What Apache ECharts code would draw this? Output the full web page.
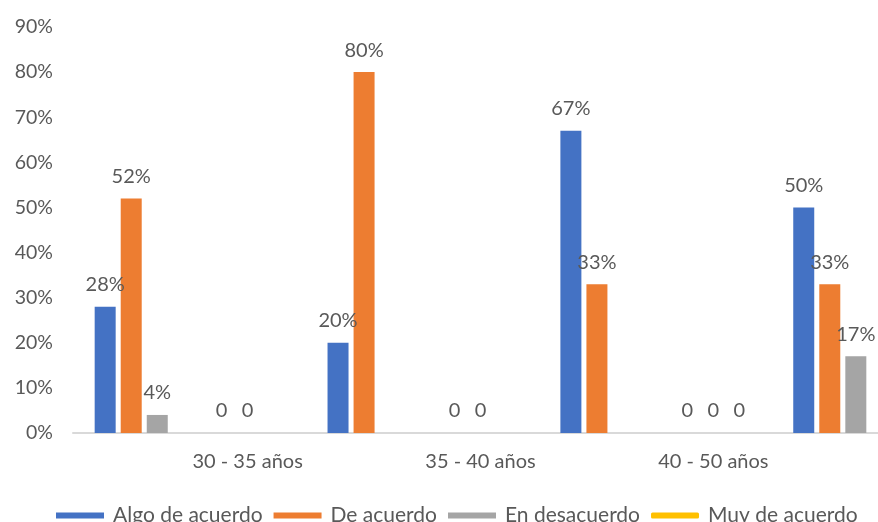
<!DOCTYPE html>
<html>
<head>
<meta charset="utf-8">
<script src="https://cdn.jsdelivr.net/npm/echarts@6/dist/echarts.min.js"></script>
<style>
  html, body { margin: 0; padding: 0; background: #fff; overflow: hidden; }
  #chart { width: 890px; height: 522px; }
</style>
</head>
<body>
<div id="chart"></div>
<script>
const categories = ['', '30 - 35 años', '', '35 - 40 años', '', '40 - 50 años', ''];
const algoDeAcuerdo = [28, 0, 20, 0, 67, 0, 50];
const deAcuerdo = [52, 0, 80, 0, 33, 0, 33];
const enDesacuerdo = [4, null, null, null, null, 0, 17];
const muyDeAcuerdo = [null, null, null, null, null, null, null];
const yTicks = [0, 90, 10]; // min, max, interval

const textColor = '#595959';
const fontFamily = 'Lato';

const labelOpt = {
    show: true,
    position: 'top',
    distance: 12,
    color: textColor,
    fontFamily: fontFamily,
    fontSize: 20,
    formatter: p => p.value === 0 ? '0' : p.value + '%'
}

const barSeries = (name, data, color) => ({
    name: name,
    type: 'bar',
    data: data,
    barWidth: 21,
    barGap: '24%',
    itemStyle: { color: color },
    label: labelOpt
})

// chart is a bit wider than the window: the plot runs past the right edge like the source
const chart = echarts.init(document.getElementById('chart'));
const option = {
    animation: false,
    textStyle: { fontFamily: fontFamily },
    grid: { left: 73, right: 2, top: 27, bottom: 89, containLabel: false },
    legend: {
        left: 51,
        top: 500,
        itemWidth: 48,
        itemHeight: 6,
        itemGap: 11,
        textStyle: { color: textColor, fontSize: 21, fontFamily: fontFamily, padding: [0, 0, 0, 4] },
        data: [
            { name: 'Algo de acuerdo', icon: 'rect' },
            { name: 'De acuerdo', icon: 'rect' },
            { name: 'En desacuerdo', icon: 'rect' },
            { name: 'Muy de acuerdo', icon: 'roundRect', itemStyle: { color: '#FFC000' } }
        ]
    },
    xAxis: {
        type: 'category',
        data: categories,
        axisTick: { show: false },
        axisLine: { lineStyle: { color: '#D9D9D9', width: 2 } },
        axisLabel: { color: textColor, fontSize: 20, margin: 19, interval: 0 }
    },
    yAxis: {
        type: 'value',
        min: yTicks[0],
        max: yTicks[1],
        interval: yTicks[2],
        splitLine: { show: false },
        axisLine: { show: false },
        axisLabel: { color: textColor, fontSize: 19.5, margin: 20, formatter: '{value}%' }
    },
    series: [
        barSeries('Algo de acuerdo', algoDeAcuerdo, '#4472C4'),
        barSeries('De acuerdo', deAcuerdo, '#ED7D31'),
        barSeries('En desacuerdo', enDesacuerdo, '#A5A5A5'),
        {
            name: 'Muy de acuerdo',
            type: 'line',
            data: muyDeAcuerdo,
            symbol: 'none',
            itemStyle: { color: '#FFC000' },
            lineStyle: { color: '#FFC000', width: 4 }
        }
    ]
}
chart.setOption(option);
</script>
</body>
</html>
